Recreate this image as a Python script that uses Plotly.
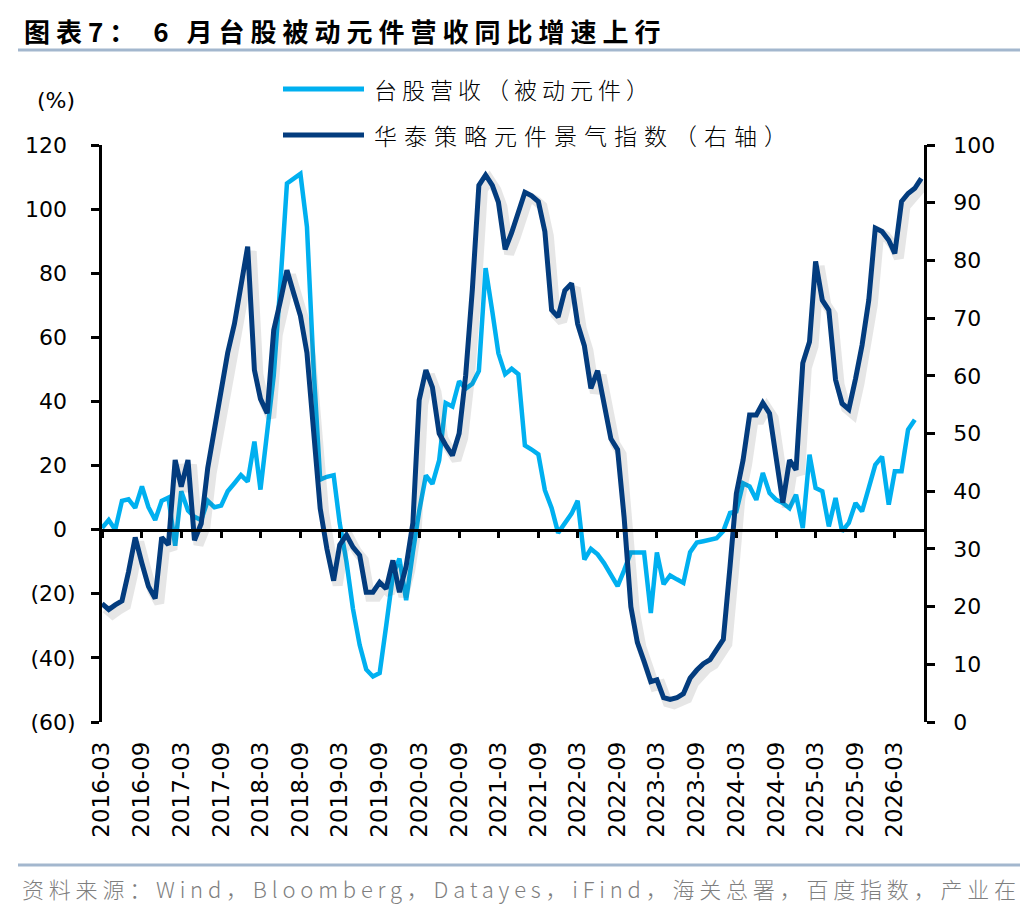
import pandas as pd
import plotly.graph_objects as go

# ---- data ----------------------------------------------------------------
start_month = '2016-03-01'

# 台股营收（被动元件）YoY, %  (left axis), 2016-03 .. 2026-06
revenue_yoy = [0.5, 3, 0, 9, 9.5, 6.8, 13.5, 7, 3, 9,
               10, -5, 12, 6, 4, 3, 9, 7, 7.5, 12,
               14.5, 17, 15, 27.5, 12.5, 31, 48, 77, 108, 109.5,
               111, 94.5, 50, 15.6, 16.5, 17, 2, -10, -24.7, -36,
               -43.6, -45.8, -44.7, -30, -14.2, -9, -22, -7, 5.8, 16.9,
               14.3, 21.6, 39.5, 38.4, 46.3, 44, 45.5, 49.5, 81.6, 68,
               55, 48.5, 50.2, 48.5, 26.3, 25, 23.5, 12.3, 6.8, -1,
               1.8, 5, 9, -9.3, -6, -7.7, -10.5, -14, -17.6, -12.7,
               -7.1, -7.1, -7.1, -26, -7.1, -17, -14.3, -15.5, -16.6, -7,
               -4, -3.6, -3.2, -2.7, -0.4, 5.2, 5.7, 14.5, 13.5, 9.3,
               17.7, 11.4, 9.3, 8.3, 6.7, 10.9, 0.5, 23.4, 13, 12,
               1, 9.9, -0.5, 2.1, 8.3, 5.7, 13, 20.2, 22.8, 7.8,
               18.2, 18.2, 31.2, 34.3]

# 华泰策略元件景气指数 (right axis), 2016-03 .. 2026-07
boom_index = [20.5, 19.5, 20.3, 21, 26, 32, 27.5, 23.5, 21.4, 32,
              30.7, 45.4, 40.8, 45.4, 31.5, 34.4, 44, 50.5, 57, 64,
              69, 75.5, 82.4, 61, 56, 53.5, 67.9, 73, 78.3, 74.3,
              70.4, 64, 50, 37, 30, 24.5, 30.7, 32.4, 30.3, 28.9,
              22.5, 22.5, 24.2, 23.1, 28, 22.5, 27, 34.5, 55.8, 61,
              58, 50, 48, 46.2, 50, 60, 75, 93, 94.8, 93,
              90.1, 81.9, 84.8, 88.5, 91.8, 91.2, 90.2, 85, 71.4, 70.2,
              74.8, 76, 69, 65.2, 57.8, 60.9, 55.3, 49.1, 47.2, 35.5,
              20, 13.8, 10.5, 7, 7.3, 4.2, 3.9, 4.2, 4.9, 7.6,
              9, 10.1, 10.8, 12.6, 14.3, 27, 39.6, 45.4, 53.2, 53.2,
              55.3, 53.5, 45.4, 38, 45.4, 43.7, 62.2, 65.9, 79.8, 73.1,
              71.4, 59.3, 55.2, 54.2, 59.5, 65.3, 73.1, 85.6, 85, 83.5,
              81.2, 90.2, 91.6, 92.5, 94.2]

left_tickvals = [-60, -40, -20, 0, 20, 40, 60, 80, 100, 120]
left_ticktext = ['(60)', '(40)', '(20)', '0', '20', '40', '60', '80', '100', '120']
right_tickvals = [0, 10, 20, 30, 40, 50, 60, 70, 80, 90, 100]

title = '图表7： 6 月台股被动元件营收同比增速上行'
name_rev = '台股营收（被动元件）'
name_idx = '华泰策略元件景气指数（右轴）'
source = '资料来源：Wind，Bloomberg，Datayes，iFind，海关总署，百度指数，产业在'

light_blue = '#00B0F0'
navy = '#033C7E'
rule_color = '#A3B7CE'

# ---- geometry (page pixels; the page body adds an 8px margin) -------------
OFF = 8
W, H = 1036 - 2 * OFF, 916 - 2 * OFF
PLOT_L, PLOT_R, PLOT_T, PLOT_B = 102, 925, 145, 722
ML, MT = PLOT_L - OFF, PLOT_T - OFF
MR, MB = W - (PLOT_R - OFF), H - (PLOT_B - OFF)


def px(x):
    return (x - PLOT_L) / (PLOT_R - PLOT_L)


def py(y):
    return (PLOT_B - y) / (PLOT_B - PLOT_T)


def spaced(text, gap):
    return '<span style="letter-spacing:%spx">%s</span>' % (gap, text)


# Excel "#,##0 ;(#,##0)": positive labels keep room for the closing bracket
ghost = '<span style="color:rgba(0,0,0,0)">)</span>'
left_labels = [t if t.startswith('(') else t + ghost for t in left_ticktext]

x_rev = pd.date_range(start_month, periods=len(revenue_yoy), freq='MS')
x_idx = pd.date_range(start_month, periods=len(boom_index), freq='MS')

x0 = pd.Timestamp(start_month)
x1 = pd.Timestamp('2026-07-18')
days_per_px = (x1 - x0).days / (PLOT_R - PLOT_L)
shift = pd.Timedelta(days=4 * days_per_px)

fig = go.Figure()

fig.add_trace(go.Scatter(x=x_rev, y=revenue_yoy, mode='lines', name=name_rev,
                         line=dict(color=light_blue, width=4.5),
                         xaxis='x', yaxis='y'))
# left axis line and its short ticks live on their own overlay
fig.add_trace(go.Scatter(x=[], y=[], mode='lines', hoverinfo='skip',
                         xaxis='x', yaxis='y4'))
# soft shadow under the index line
fig.add_trace(go.Scatter(x=x_idx, y=boom_index, mode='lines', hoverinfo='skip',
                         line=dict(color='rgba(60,60,60,0.13)', width=10),
                         xaxis='x2', yaxis='y2'))
fig.add_trace(go.Scatter(x=x_idx, y=boom_index, mode='lines', name=name_idx,
                         line=dict(color=navy, width=5),
                         xaxis='x3', yaxis='y3'))

tickfont = dict(family='DejaVu Sans', size=22, color='black')
axis_line = dict(showline=True, linecolor='black', linewidth=2.5,
                 ticks='outside', tickwidth=2.5, tickcolor='black',
                 showgrid=False, zeroline=False)

fig.update_layout(
    width=W, height=H,
    margin=dict(l=ML, r=MR, t=MT, b=MB),
    paper_bgcolor='white', plot_bgcolor='white',
    showlegend=False,
    xaxis=dict(range=[x0, x1], showline=False, ticks='', showgrid=False,
               zeroline=False, tickmode='linear', tick0=start_month, dtick='M6',
               tickformat='%Y-%m', tickangle=-90, ticklabelstandoff=14,
               tickfont=dict(family='DejaVu Sans', size=23, color='black')),
    # labels only: long invisible ticks set the gap to the axis
    yaxis=dict(range=[-60, 120], tickmode='array', tickvals=left_tickvals,
               ticktext=left_labels, showline=False, ticks='outside',
               ticklen=21, tickcolor='rgba(0,0,0,0)', showgrid=False,
               zeroline=False, tickfont=tickfont),
    yaxis4=dict(range=[-60, 120], overlaying='y', side='left', anchor='x',
                tickmode='array', tickvals=left_tickvals, ticklen=8,
                showticklabels=False, **axis_line),
    xaxis2=dict(range=[x0 - shift, x1 - shift], overlaying='x', visible=False),
    yaxis2=dict(range=[0.8, 100.8], overlaying='y', visible=False, anchor='x2'),
    xaxis3=dict(range=[x0, x1], overlaying='x', anchor='free', position=1 / 3,
                ticklen=7, tickmode='linear', tick0=start_month, dtick='M6',
                showticklabels=False, **axis_line),
    yaxis3=dict(range=[0, 100], overlaying='y', side='right', anchor='free',
                position=1, tickmode='array', tickvals=right_tickvals,
                ticklen=8, ticklabelstandoff=14, tickfont=tickfont, **axis_line),
)

shapes = [
    dict(type='line', xref='paper', yref='paper', x0=px(18), x1=px(1020),
         y0=py(50), y1=py(50), line=dict(color=rule_color, width=3)),
    dict(type='line', xref='paper', yref='paper', x0=px(18), x1=px(1020),
         y0=py(865), y1=py(865), line=dict(color=rule_color, width=3)),
    dict(type='line', xref='paper', yref='paper', x0=px(283), x1=px(364),
         y0=py(89), y1=py(89), line=dict(color=light_blue, width=5)),
    dict(type='line', xref='paper', yref='paper', x0=px(283), x1=px(364),
         y0=py(135), y1=py(135), line=dict(color=navy, width=5)),
]
fig.update_layout(shapes=shapes)

cjk = 'Noto Sans CJK SC'
annotations = [
    dict(text='<b>' + spaced(title, 6) + '</b>', x=px(22), y=py(31),
         xanchor='left', yanchor='middle',
         font=dict(family=cjk, size=26, color='black')),
    dict(text=spaced(name_rev, 5), x=px(372), y=py(89), xanchor='left',
         yanchor='middle', font=dict(family=cjk, size=23, color='black', weight=300)),
    dict(text=spaced(name_idx, 7), x=px(372), y=py(135), xanchor='left',
         yanchor='middle', font=dict(family=cjk, size=23, color='black', weight=300)),
    dict(text='(%)', x=px(56), y=py(100), xanchor='center', yanchor='middle',
         font=tickfont),
    dict(text=spaced(source, 4.8), x=px(20), y=py(888), xanchor='left',
         yanchor='middle', font=dict(family=cjk, size=22, color='#7F7F7F', weight=300)),
]
for a in annotations:
    a.update(xref='paper', yref='paper', showarrow=False)
fig.update_layout(annotations=annotations)

fig.write_html('out.html')
